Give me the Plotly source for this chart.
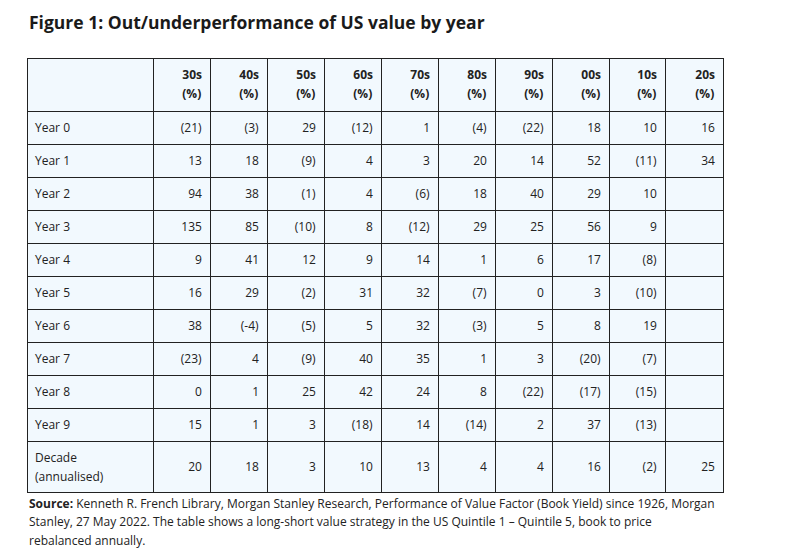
import plotly.graph_objects as go

decades = ['30s', '40s', '50s', '60s', '70s', '80s', '90s', '00s', '10s', '20s']
row_labels = ['Year 0', 'Year 1', 'Year 2', 'Year 3', 'Year 4', 'Year 5',
              'Year 6', 'Year 7', 'Year 8', 'Year 9', 'Decade<br>(annualised)']

# one list per decade column, top to bottom (Year 0 .. Year 9, Decade)
col_30s = ['(21)', '13', '94', '135', '9', '16', '38', '(23)', '0', '15', '20']
col_40s = ['(3)', '18', '38', '85', '41', '29', '(-4)', '4', '1', '1', '18']
col_50s = ['29', '(9)', '(1)', '(10)', '12', '(2)', '(5)', '(9)', '25', '3', '3']
col_60s = ['(12)', '4', '4', '8', '9', '31', '5', '40', '42', '(18)', '10']
col_70s = ['1', '3', '(6)', '(12)', '14', '32', '32', '35', '24', '14', '13']
col_80s = ['(4)', '20', '18', '29', '1', '(7)', '(3)', '1', '8', '(14)', '4']
col_90s = ['(22)', '14', '40', '25', '6', '0', '5', '3', '(22)', '2', '4']
col_00s = ['18', '52', '29', '56', '17', '3', '8', '(20)', '(17)', '37', '16']
col_10s = ['10', '(11)', '10', '9', '(8)', '(10)', '19', '(7)', '(15)', '(13)', '(2)']
col_20s = ['16', '34', '', '', '', '', '', '', '', '', '25']

title = 'Figure 1: Out/underperformance of US value by year'
source_lines = [
    '<b>Source:</b> Kenneth R. French Library, Morgan Stanley Research, Performance of Value Factor (Book Yield) since 1926, Morgan',
    'Stanley, 27 May 2022. The table shows a long-short value strategy in the US Quintile 1 \u2013 Quintile 5, book to price',
    'rebalanced annually.',
]

W, H = 785, 548
OFF = 8  # page body margin pushes the plot 8px right/down
fill = '#f2f9fe'
border = '#222222'
txt = '#222222'


def px(x):
    return (x - OFF) / W


def py(y):
    return 1 - (y - OFF) / H


def nudge(s, d):
    # plotly tables top-align text; push it down to sit mid-row.
    # trailing <br> stops the table from word-splitting the span tag
    if s == '':
        return s
    return '<span style="baseline-shift:-%dpx">%s</span><br>' % (d, s)


columns = [col_30s, col_40s, col_50s, col_60s, col_70s,
           col_80s, col_90s, col_00s, col_10s, col_20s]
last_label = row_labels[-1].replace('<br>', '<br><span style="baseline-shift:-3px">') + '</span>'
cell_cols = [[nudge(s, 5) for s in row_labels[:-1]] + [last_label]]
for col in columns:
    cell_cols.append([nudge(s, 5) for s in col[:-1]] + [nudge(col[-1], 22)])

header_vals = [''] + ['<b>%s<br><span style="baseline-shift:-3px">(%%)</span></b>' % d for d in decades]

fig = go.Figure(data=[go.Table(
    domain=dict(x=[px(27), px(723)], y=[0, py(58)]),
    columnwidth=[126, 57, 57, 57, 57, 57, 57, 57, 57, 56, 58],
    header=dict(values=header_vals,
                line_color=border, line_width=1,
                fill_color=fill,
                align=['left'] + ['right'] * 10,
                font=dict(family='Open Sans', size=12, color=txt),
                height=53),
    cells=dict(values=cell_cols,
               line_color=border, line_width=1,
               fill_color=fill,
               align=['left'] + ['right'] * 10,
               font=dict(family='Open Sans', size=12, color=txt),
               height=33))
])

fig.add_annotation(text='<b>%s</b>' % title, xref='paper', yref='paper',
                   x=px(27), y=py(22), xanchor='left', yanchor='middle',
                   showarrow=False, font=dict(family='Open Sans', size=17.5, color='#1a1a1a'))

for i, line in enumerate(source_lines):
    fig.add_annotation(text=line, xref='paper', yref='paper',
                       x=px(27), y=py(503 + 18.7 * i), xanchor='left', yanchor='middle',
                       showarrow=False, font=dict(family='Open Sans', size=12, color=txt))

fig.update_layout(width=W, height=H, margin=dict(l=0, r=0, t=0, b=0),
                  paper_bgcolor='white', plot_bgcolor='white')
fig.write_html('out.html')
